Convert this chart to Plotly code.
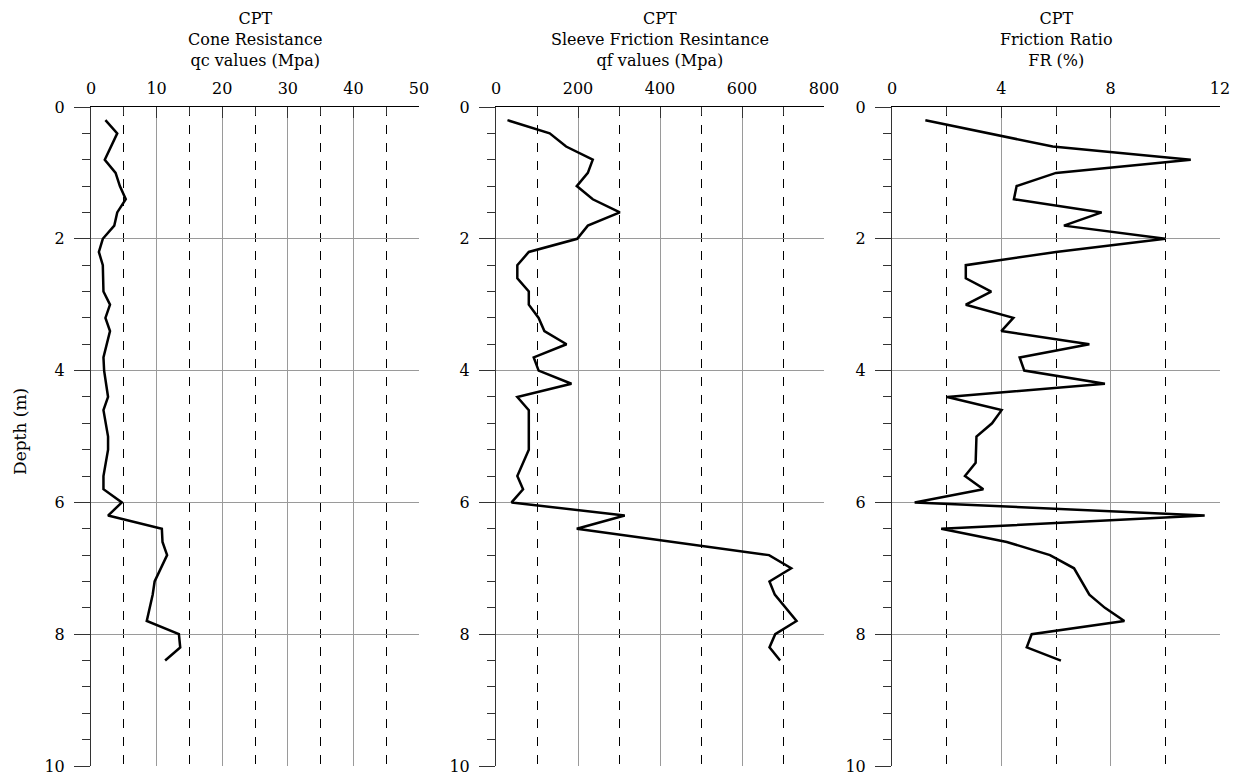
import plotly.graph_objects as go

# ---------------- data ----------------
depth_qc = [0.2, 0.4, 0.8, 1.0, 1.2, 1.4, 1.6, 1.8, 2.0, 2.2, 2.4, 2.8, 3.0, 3.2, 3.4, 3.8, 4.0,
            4.4, 4.6, 5.0, 5.2, 5.6, 5.8, 6.0, 6.2, 6.4, 6.6, 6.8, 7.2, 7.4, 7.8, 8.0, 8.2, 8.4]
qc = [2.2, 4.0, 2.1, 3.75, 4.4, 5.3, 4.0, 3.55, 1.8, 1.2, 1.8, 1.9, 2.9, 2.2, 2.9, 1.9, 2.0,
      2.6, 1.9, 2.6, 2.6, 1.9, 1.9, 4.7, 2.6, 10.8, 10.9, 11.6, 9.7, 9.4, 8.5, 13.4, 13.6, 11.3]

depth_qf = [0.2, 0.4, 0.6, 0.8, 1.0, 1.2, 1.4, 1.6, 1.8, 2.0, 2.2, 2.4, 2.6, 2.8, 3.0, 3.2, 3.4,
            3.6, 3.8, 4.0, 4.2, 4.4, 4.6, 4.8, 5.0, 5.2, 5.6, 5.8, 6.0, 6.2, 6.4, 6.8, 7.0, 7.2,
            7.4, 7.8, 8.0, 8.2, 8.4]
qf = [28, 131, 171, 236, 224, 197, 236, 302, 224, 198, 80, 52, 52, 80, 80, 104, 118,
      172, 92, 104, 184, 52, 80, 80, 80, 80, 52, 66, 38, 314, 197, 666, 720, 667,
      680, 733, 681, 667, 693]

depth_fr = [0.2, 0.4, 0.6, 0.8, 1.0, 1.2, 1.4, 1.6, 1.8, 2.0, 2.2, 2.4, 2.6, 2.8, 3.0, 3.2, 3.4,
            3.6, 3.8, 4.0, 4.2, 4.4, 4.6, 4.8, 5.0, 5.4, 5.6, 5.8, 6.0, 6.2, 6.4, 6.6, 6.8, 7.0,
            7.4, 7.6, 7.8, 8.0, 8.2, 8.4]
fr = [1.22, 3.6, 5.88, 10.93, 6.0, 4.56, 4.46, 7.67, 6.29, 10.0, 6.0, 2.7, 2.7, 3.63, 2.7, 4.44, 4.0,
      7.22, 4.67, 4.84, 7.79, 2.02, 4.01, 3.66, 3.09, 3.06, 2.67, 3.34, 0.83, 11.44, 1.80, 4.2, 5.78, 6.66,
      7.22, 7.79, 8.5, 5.11, 4.93, 6.18]

titles = ["CPT<br>Cone Resistance<br>qc values (Mpa)",
          "CPT<br>Sleeve Friction Resintance<br>qf values (Mpa)",
          "CPT<br>Friction Ratio<br>FR (%)"]
x_ranges = [[0, 50], [0, 800], [0, 12]]
x_dticks = [10, 200, 4]
depth_ticks = [0, 2, 4, 6, 8, 10]
y_label = "Depth (m)"

# ---------------- layout geometry ----------------
W, H = 1238, 775
OFF = 8  # page body margin compensation
FONT = "DejaVu Serif"
panels_px = [(91 - OFF, 419 - OFF), (496 - OFF, 824 - OFF), (892 - OFF, 1220 - OFF)]
top_px, bot_px = 107 - OFF, 766 - OFF
ydom = [1 - bot_px / H, 1 - top_px / H]

fig = go.Figure()
series = [(qc, depth_qc), (qf, depth_qf), (fr, depth_fr)]
for i, (xv, yv) in enumerate(series):
    sfx = "" if i == 0 else str(i + 1)
    fig.add_trace(go.Scatter(x=xv, y=yv, mode="lines",
                             line=dict(color="black", width=2.5),
                             xaxis="x" + sfx, yaxis="y" + sfx, showlegend=False))

layout = dict(width=W, height=H, margin=dict(l=0, r=0, t=0, b=0, autoexpand=False),
              paper_bgcolor="white", plot_bgcolor="white",
              font=dict(family=FONT, size=16, color="black"))

annotations = []
for i in range(3):
    sfx = "" if i == 0 else str(i + 1)
    x0, x1 = panels_px[i]
    layout["xaxis" + sfx] = dict(
        domain=[x0 / W, x1 / W], anchor="y" + sfx, side="top", automargin=False,
        range=x_ranges[i], dtick=x_dticks[i], tick0=0,
        showline=True, linecolor="black", linewidth=1,
        ticks="inside", ticklen=11, tickcolor="#333", tickwidth=1,
        ticklabelstandoff=6,
        showgrid=True, gridcolor="#9a9a9a", gridwidth=1,
        zeroline=False, fixedrange=True,
        tickfont=dict(family=FONT, size=16, color="black"),
        minor=dict(dtick=x_dticks[i] / 2, tick0=0, showgrid=True,
                   gridcolor="black", griddash="dash", gridwidth=1,
                   ticks="inside", ticklen=8, tickcolor="#333"),
    )
    layout["yaxis" + sfx] = dict(
        domain=ydom, anchor="x" + sfx, range=[10, 0], automargin=False,
        tickvals=depth_ticks, ticktext=[str(v) for v in depth_ticks],
        showline=True, linecolor="#333", linewidth=1,
        ticks="outside", ticklen=16, tickcolor="#333", tickwidth=1,
        ticklabelstandoff=6,
        showgrid=True, gridcolor="#9a9a9a", gridwidth=1,
        zeroline=False, fixedrange=True,
        tickfont=dict(family=FONT, size=16, color="black"),
        minor=dict(dtick=0.4, tick0=0, ticks="outside", ticklen=8,
                   tickcolor="#333", showgrid=False),
    )
    annotations.append(dict(
        text=titles[i], x=(x0 + x1) / 2 / W, y=1 - (72 - OFF) / H,
        xref="paper", yref="paper", xanchor="center", yanchor="bottom",
        showarrow=False, align="center",
        font=dict(family=FONT, size=16, color="black")))

annotations.append(dict(text=y_label, x=(20 - OFF) / W, y=1 - (432 - OFF) / H,
                        xref="paper", yref="paper",
                        textangle=-90, showarrow=False, xanchor="center", yanchor="middle",
                        font=dict(family=FONT, size=17, color="black")))
layout["annotations"] = annotations
fig.update_layout(**layout)

fig.write_html("out.html")
